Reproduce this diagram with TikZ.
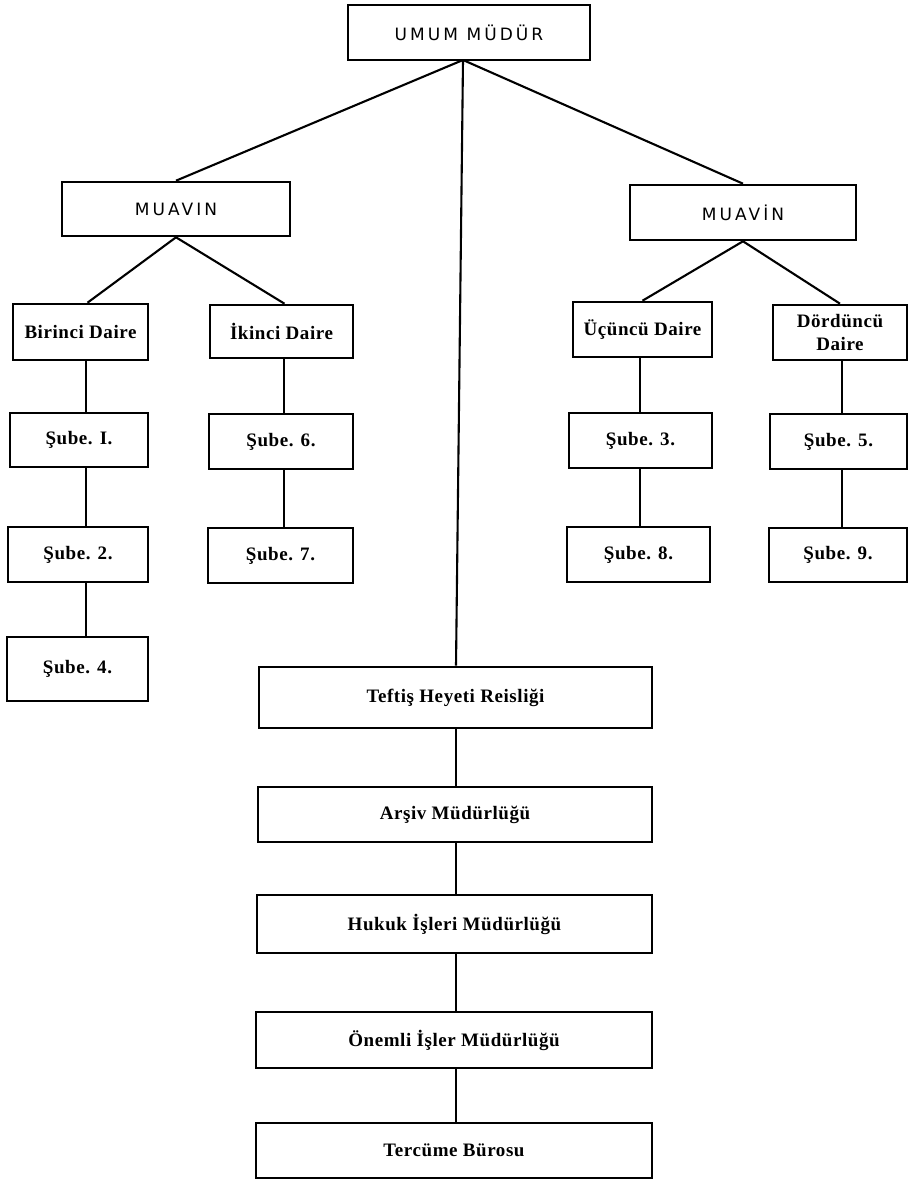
\documentclass[tikz,border=0pt]{standalone}
\usepackage{fontspec}
\usetikzlibrary{calc}
\setmainfont{Liberation Serif}
\newfontfamily\hdfont[LetterSpace=18]{DejaVu Sans}
\newfontfamily\lblfont[LetterSpace=3]{Liberation Serif}
\tikzset{
  box/.style={draw, line width=2.6pt, inner sep=0pt, align=center},
  hd/.style={box, font=\hdfont\fontsize{17}{20}\selectfont},
  lbl/.style={box, font=\lblfont\bfseries\fontsize{19}{23}\selectfont},
  conn/.style={line width=2.1pt}
}
\begin{document}
\begin{tikzpicture}[x=1pt,y=-1pt]
\useasboundingbox (0,0) rectangle (909,1182);
% top
\node[hd, minimum width=242pt, minimum height=55pt] (umum) at (469,32.5) {UMUM MÜDÜR};
\coordinate (uj) at (463,60);
\node[hd, minimum width=228pt, minimum height=54pt] (m1) at (176,209) {MUAVIN};
\node[hd, minimum width=226pt, minimum height=55pt] (m2) at (743,212.5) {MUAVİN};
% daire
\node[lbl, minimum width=135pt, minimum height=56pt] (d1) at (80.5,332) {Birinci Daire};
\node[lbl, minimum width=143pt, minimum height=53pt] (d2) at (281.5,331.5) {İkinci Daire};
\node[lbl, minimum width=139pt, minimum height=55pt] (d3) at (642.5,329.5) {Üçüncü Daire};
\node[lbl, minimum width=134pt, minimum height=55pt] (d4) at (840,332.5) {Dördüncü\\Daire};
% sube
\node[lbl, minimum width=138pt, minimum height=54pt] (s1) at (79,440) {Şube. I.};
\node[lbl, minimum width=140pt, minimum height=55pt] (s2) at (78,554.5) {Şube. 2.};
\node[lbl, minimum width=141pt, minimum height=64pt] (s4) at (77.5,669) {Şube. 4.};
\node[lbl, minimum width=144pt, minimum height=55pt] (s6) at (281,441.5) {Şube. 6.};
\node[lbl, minimum width=145pt, minimum height=55pt] (s7) at (280.5,555.5) {Şube. 7.};
\node[lbl, minimum width=143pt, minimum height=55pt] (s3) at (640.5,440.5) {Şube. 3.};
\node[lbl, minimum width=143pt, minimum height=55pt] (s8) at (638.5,554.5) {Şube. 8.};
\node[lbl, minimum width=137pt, minimum height=55pt] (s5) at (838.5,441.5) {Şube. 5.};
\node[lbl, minimum width=138pt, minimum height=54pt] (s9) at (838,555) {Şube. 9.};
% central column
\node[lbl, minimum width=393pt, minimum height=61pt] (t) at (455.5,697.5) {Teftiş Heyeti Reisliği};
\node[lbl, minimum width=394pt, minimum height=55pt] (a) at (455,814.5) {Arşiv Müdürlüğü};
\node[lbl, minimum width=395pt, minimum height=58pt] (h) at (454.5,924) {Hukuk İşleri Müdürlüğü};
\node[lbl, minimum width=396pt, minimum height=56pt] (o) at (454,1040) {Önemli İşler Müdürlüğü};
\node[lbl, minimum width=396pt, minimum height=55pt] (tr) at (454,1150.5) {Tercüme Bürosu};
% column line positions
\coordinate (x1) at (86,0);
\coordinate (x2) at (284,0);
\coordinate (x3) at (640,0);
\coordinate (x4) at (842,0);
\coordinate (xc) at (456,0);
% connectors
\draw[conn] (uj) -- (m1.north);
\draw[conn] (uj) -- (m2.north);
\draw[conn] (uj) -- (t.north -| xc);
\draw[conn] (m1.south) -- ($(d1.north)+(7,0)$);
\draw[conn] (m1.south) -- ($(d2.north)+(3,0)$);
\draw[conn] (m2.south) -- (d3.north);
\draw[conn] (m2.south) -- (d4.north);
\draw[conn] (d1.south -| x1) -- (s1.north -| x1);
\draw[conn] (s1.south -| x1) -- (s2.north -| x1);
\draw[conn] (s2.south -| x1) -- (s4.north -| x1);
\draw[conn] (d2.south -| x2) -- (s6.north -| x2);
\draw[conn] (s6.south -| x2) -- (s7.north -| x2);
\draw[conn] (d3.south -| x3) -- (s3.north -| x3);
\draw[conn] (s3.south -| x3) -- (s8.north -| x3);
\draw[conn] (d4.south -| x4) -- (s5.north -| x4);
\draw[conn] (s5.south -| x4) -- (s9.north -| x4);
\draw[conn] (t.south -| xc) -- (a.north -| xc);
\draw[conn] (a.south -| xc) -- (h.north -| xc);
\draw[conn] (h.south -| xc) -- (o.north -| xc);
\draw[conn] (o.south -| xc) -- (tr.north -| xc);
\end{tikzpicture}
\end{document}
